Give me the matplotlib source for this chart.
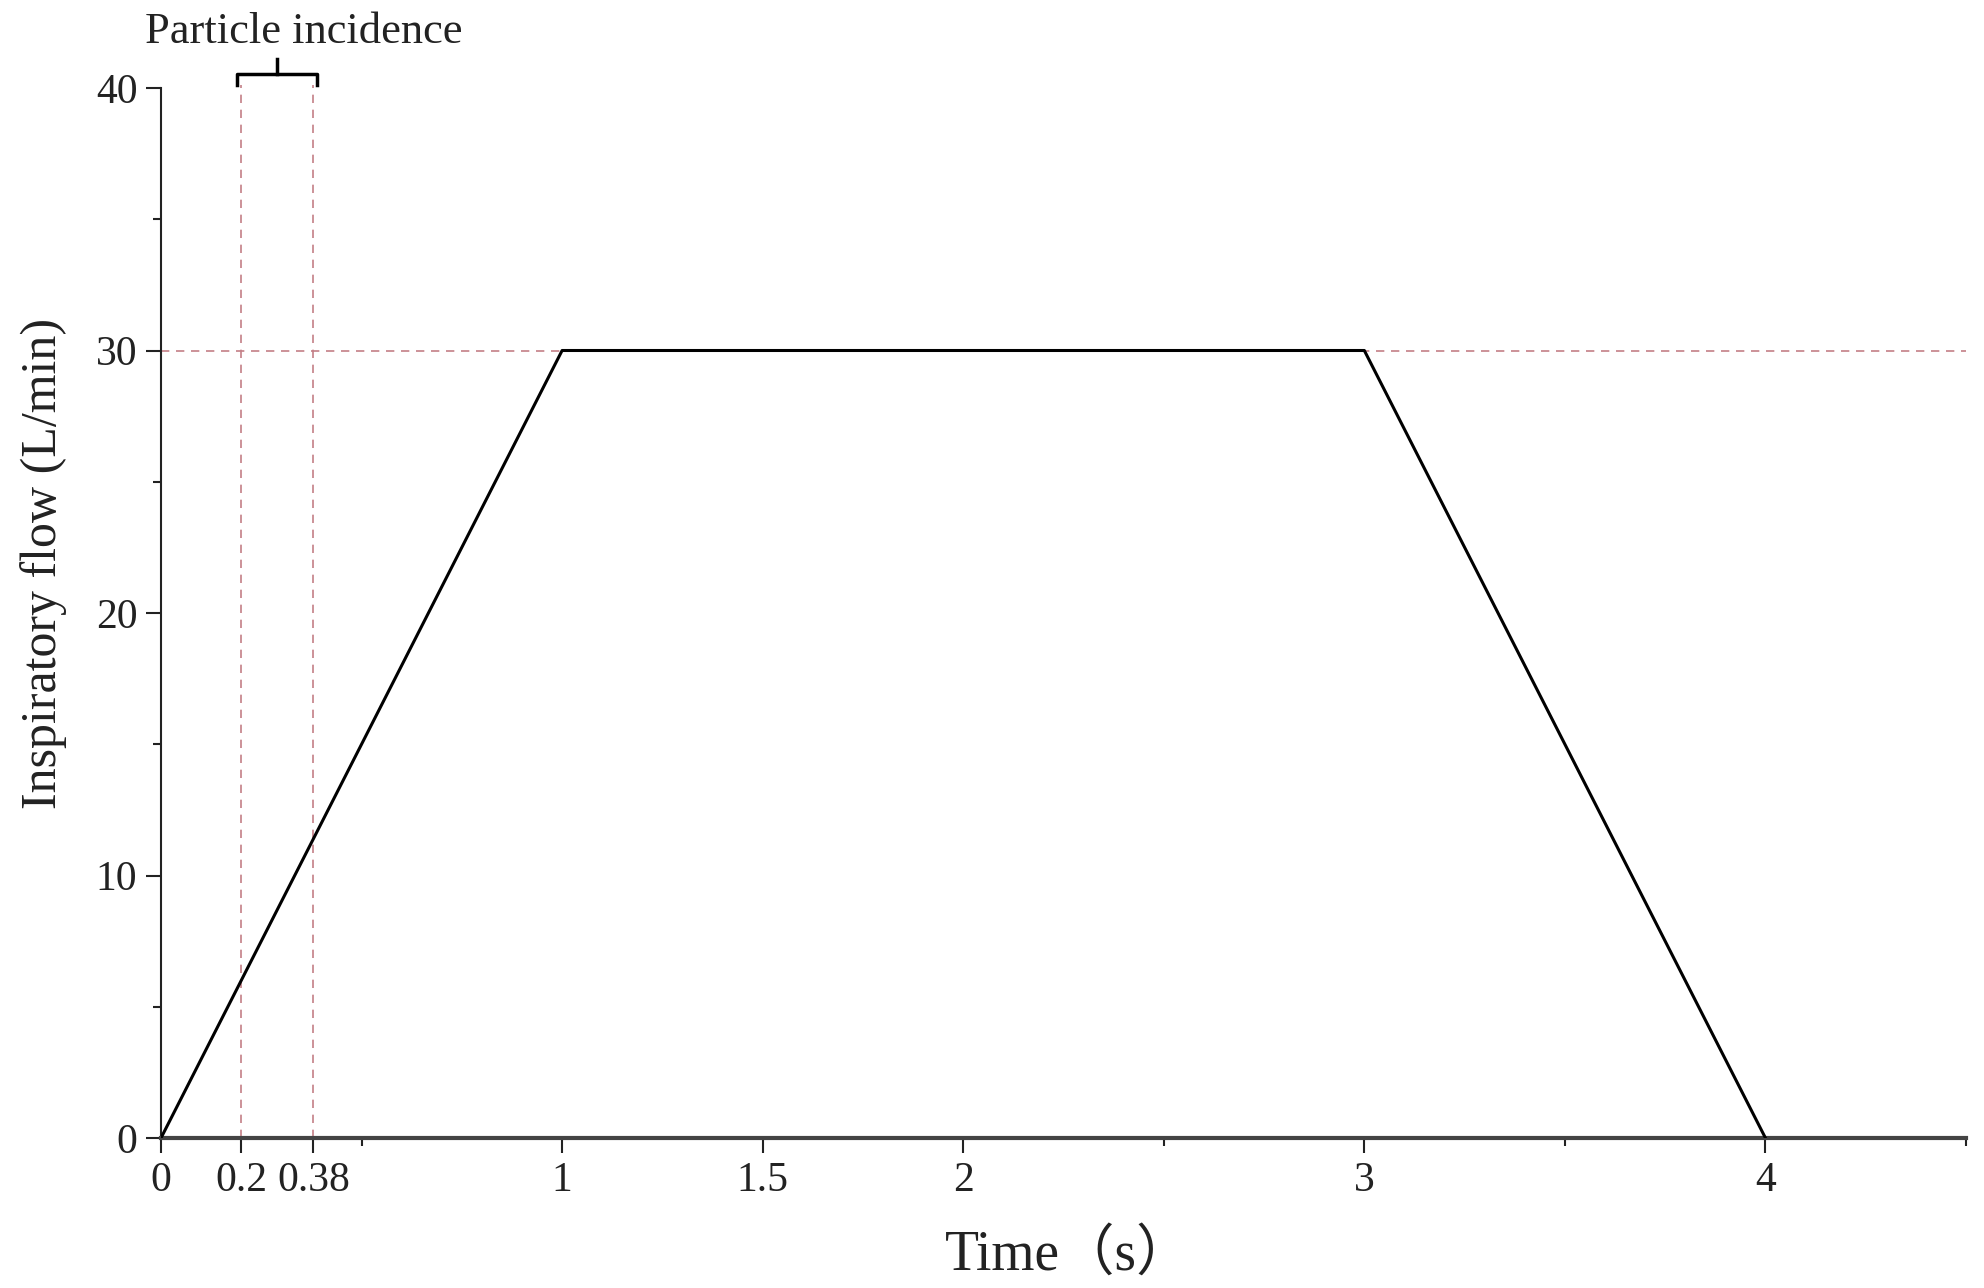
import matplotlib
matplotlib.use("Agg")
import matplotlib.pyplot as plt
from matplotlib.ticker import FixedLocator, MultipleLocator

plt.rcParams['font.family'] = ['Liberation Serif', 'Noto Sans CJK SC', 'DejaVu Sans']

time_s = [0, 1, 3, 4]
flow = [0, 30, 30, 0]
incidence = [0.2, 0.38]
plateau = 30
xticks = [0, 0.2, 0.38, 1, 1.5, 2, 3, 4]
xtick_labels = ['0', '0.2', '0.38', '1', '1.5', '2', '3', '4']
xminor = [0.5, 2.5, 3.5, 4.5]
yticks = [0, 10, 20, 30, 40]

fig = plt.figure(figsize=(19.84, 12.88), dpi=100)
ax = fig.add_axes([161/1984, 1-1138/1288, (1966-161)/1984, (1138-88)/1288])

red = '#c47f86'
ax.axhline(plateau, color=red, lw=1.2, ls=(0, (5, 4)), zorder=1)
for xv in incidence:
    ax.plot([xv, xv], [0, 40.12], color=red, lw=1.2, ls=(0, (5, 4)), clip_on=False, zorder=1)

ax.plot(time_s, flow, color='black', lw=2.2, zorder=3)

# brace
bx0, bx1 = 0.19, 0.39
by0, by1, byt = 40.1, 40.55, 41.12
bm = (bx0 + bx1) / 2
ax.plot([bx0, bx0, bx1, bx1], [by0, by1, by1, by0], color='black', lw=2.5,
        clip_on=False, solid_joinstyle='round')
ax.plot([bm, bm], [by1, byt], color='black', lw=2.5, clip_on=False)
ax.text(0.355, 41.71, 'Particle incidence', ha='center', va='baseline', fontsize=32,
        color='#222222')

ax.set_xlim(0, 4.5)
ax.set_ylim(0, 40)
ax.xaxis.set_major_locator(FixedLocator(xticks))
ax.set_xticklabels(xtick_labels)
ax.xaxis.set_minor_locator(FixedLocator(xminor))
ax.yaxis.set_major_locator(FixedLocator(yticks))
ax.yaxis.set_minor_locator(MultipleLocator(5))

for s in ['top', 'right']:
    ax.spines[s].set_visible(False)
ax.spines['left'].set_color('#222222')
ax.spines['left'].set_linewidth(1.5)
ax.spines['bottom'].set_color('#444444')
ax.spines['bottom'].set_linewidth(3)

ax.tick_params(axis='both', which='major', direction='out', length=11, width=1.5,
               labelsize=30, colors='#222222', pad=6)
ax.tick_params(axis='both', which='minor', direction='out', length=6, width=1.5,
               colors='#222222')

fig.text(1069/1984, 1-1270/1288, 'Time（s）', ha='center', va='baseline', fontsize=40,
         color='#222222')
fig.text(44/1984, 1-563/1288, 'Inspiratory flow (L/min)', ha='center', va='center',
         rotation=90, fontsize=36, color='#222222')

fig.savefig('out.png', dpi=100)
